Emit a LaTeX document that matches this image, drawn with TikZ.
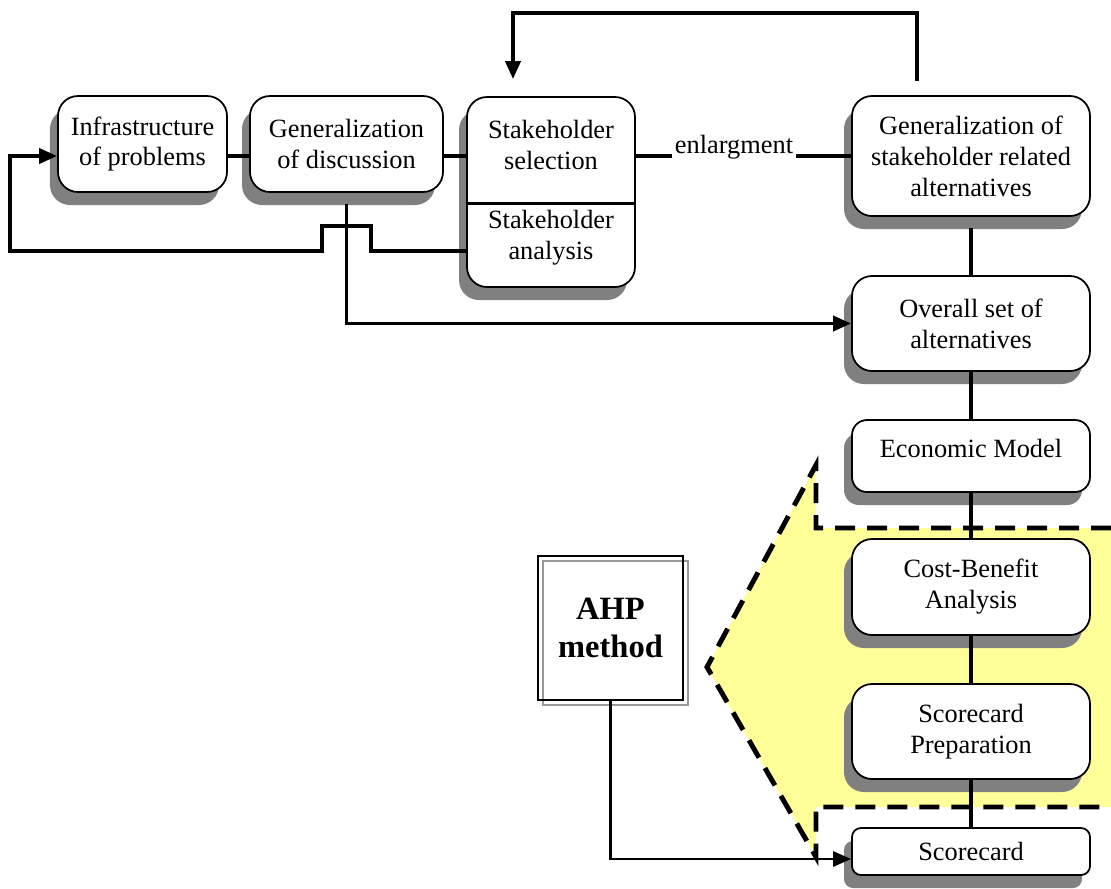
\documentclass[tikz,border=0pt]{standalone}
\usepackage{fontspec}
\setmainfont{Liberation Serif}
\usetikzlibrary{shadows,arrows.meta}
\definecolor{zoneyellow}{RGB}{255,255,153}
\begin{document}
\begin{tikzpicture}[scale=0.2,
  txt/.style={inner sep=0pt, align=center, font=\fontsize{15}{17.6}\selectfont},
  box/.style={txt, draw, line width=1pt, rounded corners=0.4cm, fill=white, minimum width=4.76cm,
    drop shadow={shadow xshift=-0.16cm, shadow yshift=-0.26cm, fill=black!50, opacity=1}},
  ahpbox/.style={draw, line width=1pt, align=center, minimum width=2.9cm, minimum height=2.88cm,
    font=\bfseries\fontsize{18.5}{21.6}\selectfont,
    general shadow={draw=black!40, line width=0.8pt, shadow xshift=0.1cm, shadow yshift=-0.1cm}},
  link/.style={line width=1.9pt},
  arr/.style={line width=2.1pt, -{Triangle[length=0.36cm,width=0.3cm]}},
  zone/.style={line width=2.8pt, dash pattern=on 0.4cm off 0.24cm}]
\useasboundingbox (0,0) rectangle (111.1,-88.8);
\fill [zoneyellow] (81.6,-46.5) -- (70.7,-66.7) -- (81.6,-85.7) -- (81.6,-80.7) -- (111.1,-80.7) -- (111.1,-52.8) -- (81.6,-52.8) -- cycle;
\draw [zone] (111.1,-52.8) -- (81.6,-52.8) -- (81.6,-46.5) -- (70.7,-66.7) -- (81.6,-85.7) -- (81.6,-80.7) -- (111.1,-80.7);
\coordinate (row) at (0,-15.6);
\coordinate (low) at (0,-25.1);
\coordinate (div) at (0,-20.3);
\coordinate (hopR) at (37.1,-22.6);
\coordinate (hopL) at (32.2,-22.6);
\coordinate (far) at (1.0,-25.1);
\coordinate (topR) at (91.7,-1.3);
\coordinate (topL) at (51.3,-1.3);
\coordinate (ahpin) at (0,-85.9);
\node [box, minimum width=3.38cm, minimum height=1.92cm] (infra) at (14.25,-14.4) {Infrastructure\\of problems};
\node [box, minimum width=3.86cm, minimum height=1.92cm] (gendisc) at (34.65,-14.4) {Generalization\\of discussion};
\node [box, minimum width=3.36cm, minimum height=3.8cm] (stake) at (55.1,-19.2) {};
\node [txt] (sel) at (55.1,-14.5) {Stakeholder\\selection};
\node [txt] (ana) at (55.1,-23.8) {Stakeholder\\analysis};
\draw [line width=1.7pt] (stake.west |- div) -- (stake.east |- div);
\node [txt, inner sep=0.06cm] (enl) at (73.4,-14.7) {enlargment};
\node [box, minimum height=2.4cm] (genalt) at (97.1,-15.6) {Generalization of\\stakeholder related\\alternatives};
\node [box, minimum height=1.9cm] (overall) at (97.1,-32.35) {Overall set of\\alternatives};
\node [box, minimum height=1.44cm, rounded corners=0.3cm, text depth=0.3cm] (econ) at (97.1,-45.6) {Economic Model};
\node [box, minimum height=1.92cm] (cba) at (97.1,-58.7) {Cost-Benefit\\Analysis};
\node [box, minimum height=1.9cm] (prep) at (97.1,-73.15) {Scorecard\\Preparation};
\node [box, minimum height=0.94cm, rounded corners=0.18cm] (score) at (97.1,-85.15) {Scorecard};
\node [ahpbox] (ahp) at (61.05,-62.8) {AHP\\method};
\draw [link] (infra.east |- row) -- (gendisc.west |- row);
\draw [link] (gendisc.east |- row) -- (stake.west |- row);
\draw [link] (stake.east |- row) -- (enl.west |- row);
\draw [link] (enl.east |- row) -- (genalt.west |- row);
\draw [arr, shorten <=0.28cm, shorten >=0.34cm] (genalt.north -| topR) |- (topL) -- (stake.north -| topL);
\draw [arr] (stake.west |- low) -| (hopR) -| (hopL) |- (far) |- (infra.west |- row);
\draw [arr, shorten <=0.22cm] (gendisc.south) |- (overall.west);
\draw [link, shorten <=0.22cm] (genalt.south) -- (overall.north);
\draw [link] (overall.south) -- (econ.north);
\draw [link] (econ.south) -- (cba.north);
\draw [link] (cba.south) -- (prep.north);
\draw [link] (prep.south) -- (score.north);
\draw [arr, line width=1.6pt] (ahp.south) |- (score.west |- ahpin);
\end{tikzpicture}
\end{document}
